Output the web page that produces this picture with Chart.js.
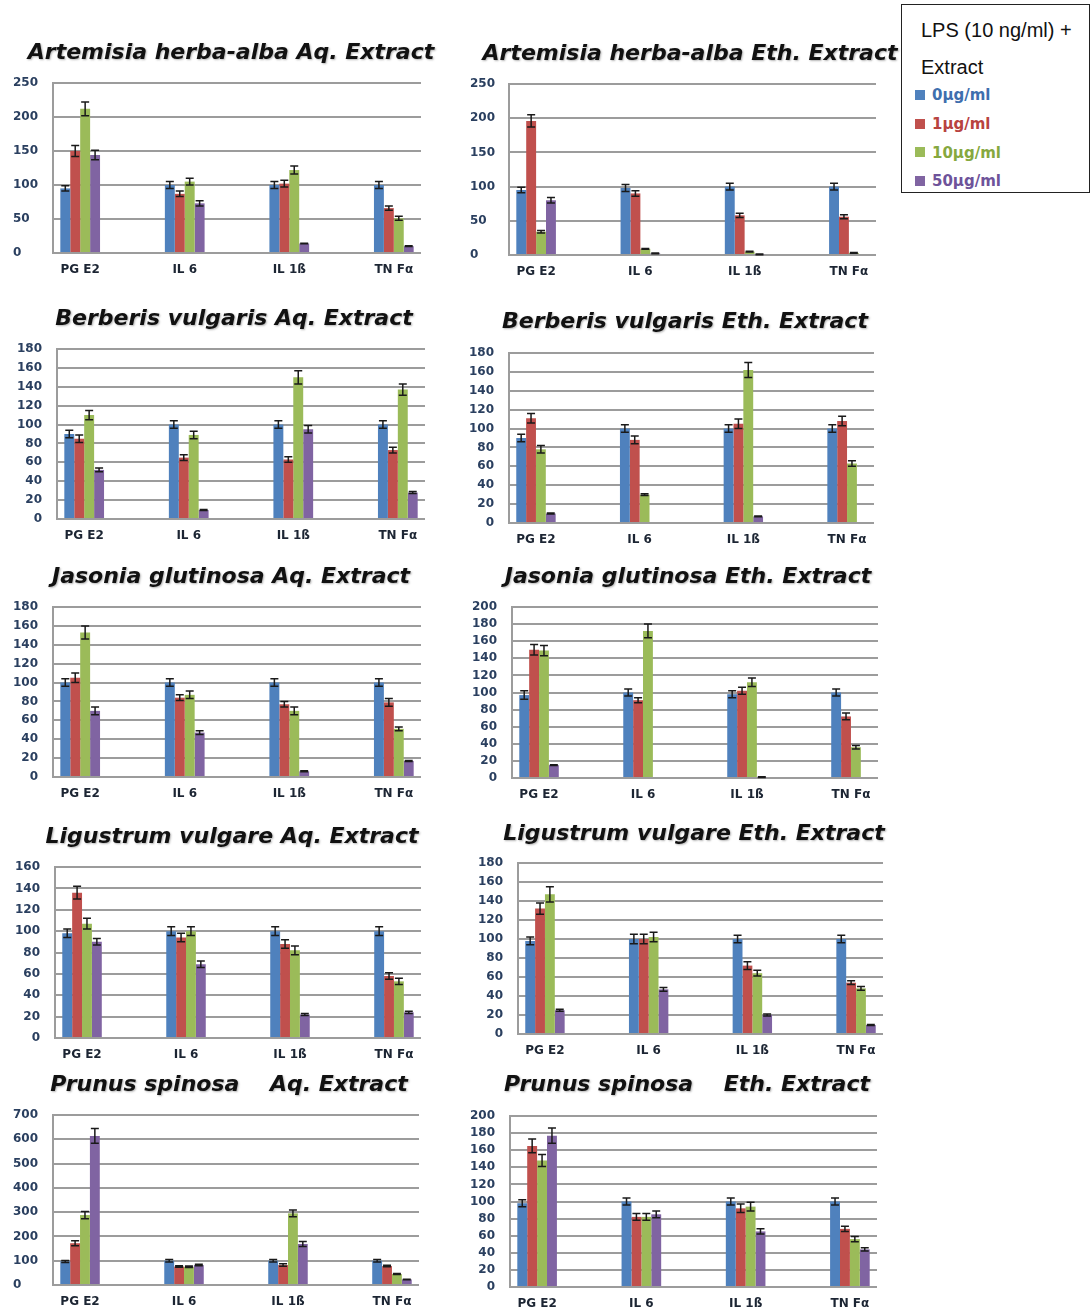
<!DOCTYPE html>
<html>
<head>
<meta charset="utf-8">
<script src="https://cdn.jsdelivr.net/npm/chart.js@4.4.0/dist/chart.umd.min.js"></script>
<style>
  html, body { margin: 0; padding: 0; background: #fff; }
  body { width: 1090px; height: 1311px; position: relative; overflow: hidden; }
  .panel { position: absolute; }
  #legend {
    position: absolute; left: 901px; top: 4px; width: 187px; height: 187px;
    border: 1px solid #222; background: #fff;
    font-family: 'Liberation Sans', Arial, sans-serif;
  }
  #legend .head { position: absolute; left: 19px; font-size: 20px; line-height: 20px; color: #111; white-space: nowrap; }
  #legend .sw { position: absolute; left: 13px; width: 10px; height: 10px; }
  #legend .lbl { position: absolute; left: 30px; font: bold 15px 'DejaVu Sans', sans-serif; line-height: 16px; white-space: nowrap; }
</style>
</head>
<body>
<div id="legend">
  <div class="head" style="top:15px">LPS (10 ng/ml) +</div>
  <div class="head" style="top:52px">Extract</div>
</div>
<script>
// categories and series
const categories = ['PG E2', 'IL 6', 'IL 1ß', 'TN Fα'];
const seriesNames = ['0µg/ml', '1µg/ml', '10µg/ml', '50µg/ml'];
const seriesColors = ['#4F81BD', '#C0504D', '#9BBB59', '#8064A2'];
const legendColors = ['#3E6FAE', '#B8433F', '#86A83F', '#6E539A'];

// one row per concentration (0, 1, 10, 50 µg/ml), columns follow categories
const artemisiaAqMeans  = [[95, 100, 100, 100], [150, 87, 102, 66], [212, 105, 122, 51], [144, 73, 14, 10]];
const artemisiaAqErrors = [[4, 5, 5, 5], [8, 4, 5, 3], [10, 5, 6, 3], [7, 4, 0.5, 0.5]];

const artemisiaEthMeans  = [[95, 98, 100, 100], [196, 90, 58, 56], [34, 9, 5, 3], [80, 2.5, 1, 0]];
const artemisiaEthErrors = [[4, 5, 5, 5], [9, 4, 3, 3], [2, 0.5, 0.5, 0.5], [4, 0.5, 0.5, 0]];

const berberisAqMeans  = [[90, 100, 100, 100], [85, 65, 63, 73], [110, 89, 150, 137], [52, 9.5, 95, 28]];
const berberisAqErrors = [[4, 4, 4, 4], [4, 3, 3, 3], [5, 4, 7, 6], [2, 0.5, 4, 1]];

const berberisEthMeans  = [[90, 100, 100, 100], [111, 88, 105, 108], [78, 30, 162, 63], [10, 0, 7, 0]];
const berberisEthErrors = [[4, 4, 4, 4], [5, 4, 5, 5], [4, 1, 8, 3], [0.5, 0, 0.5, 0]];

const jasoniaAqMeans  = [[100, 100, 100, 100], [105, 84, 77, 79], [153, 87, 70, 51], [70, 47, 6, 17]];
const jasoniaAqErrors = [[4, 4, 4, 4], [5, 3, 3, 4], [7, 4, 4, 2], [4, 2, 0.5, 0.5]];

const jasoniaEthMeans  = [[97, 100, 98, 100], [150, 91, 102, 72], [149, 172, 112, 36], [15, 0, 1, 0]];
const jasoniaEthErrors = [[5, 4, 4, 4], [6, 3, 4, 4], [6, 8, 5, 2], [0.5, 0, 0.5, 0]];

const ligustrumAqMeans  = [[98, 100, 100, 100], [136, 94, 88, 58], [107, 100, 82, 53], [90, 69, 22, 24]];
const ligustrumAqErrors = [[4, 4, 4, 4], [6, 4, 4, 3], [5, 4, 4, 3], [3, 3, 1, 1]];

const ligustrumEthMeans  = [[98, 100, 100, 100], [132, 100, 72, 54], [147, 102, 64, 48], [25, 47, 20, 9.5]];
const ligustrumEthErrors = [[4, 5, 4, 4], [6, 5, 4, 2], [8, 5, 3, 2], [1, 2, 1, 0.5]];

const prunusAqMeans  = [[97, 100, 100, 100], [172, 76, 82, 78], [288, 75, 295, 45], [614, 82, 169, 23]];
const prunusAqErrors = [[4, 5, 5, 5], [10, 3, 5, 3], [15, 3, 14, 2], [30, 3, 10, 1]];

const prunusEthMeans  = [[98, 100, 100, 100], [165, 82, 92, 68], [148, 82, 94, 56], [177, 85, 65, 44]];
const prunusEthErrors = [[4, 4, 4, 4], [8, 4, 5, 3], [7, 4, 5, 3], [9, 4, 3, 2]];

// y-axis ranges
const yMaxes = [250, 250, 180, 180, 180, 200, 160, 180, 700, 200];
const ySteps = [50, 50, 20, 20, 20, 20, 20, 20, 100, 20];

// panel placement (pixels in the page)
const panels = [
  { title: 'Artemisia herba-alba Aq. Extract', means: artemisiaAqMeans, errors: artemisiaAqErrors,
    axisX: 53, top: 83, bottom: 253, right: 421, titleX: 231, titleY: 53, yW: 40, align: 'far' },
  { title: 'Artemisia herba-alba Eth. Extract', means: artemisiaEthMeans, errors: artemisiaEthErrors,
    axisX: 509, top: 84, bottom: 255, right: 876, titleX: 690, titleY: 54, yW: 39, align: 'far' },
  { title: 'Berberis vulgaris Aq. Extract', means: berberisAqMeans, errors: berberisAqErrors,
    axisX: 57, top: 349, bottom: 519, right: 425, titleX: 234, titleY: 319, yW: 50, align: 'near' },
  { title: 'Berberis vulgaris Eth. Extract', means: berberisEthMeans, errors: berberisEthErrors,
    axisX: 509, top: 353, bottom: 523, right: 874, titleX: 685, titleY: 322, yW: 50, align: 'near' },
  { title: 'Jasonia glutinosa Aq. Extract', means: jasoniaAqMeans, errors: jasoniaAqErrors,
    axisX: 53, top: 607, bottom: 777, right: 421, titleX: 231, titleY: 577, yW: 50, align: 'near' },
  { title: 'Jasonia glutinosa Eth. Extract', means: jasoniaEthMeans, errors: jasoniaEthErrors,
    axisX: 512, top: 607, bottom: 778, right: 878, titleX: 688, titleY: 577, yW: 50, align: 'near' },
  { title: 'Ligustrum vulgare Aq. Extract', means: ligustrumAqMeans, errors: ligustrumAqErrors,
    axisX: 55, top: 867, bottom: 1038, right: 421, titleX: 232, titleY: 837, yW: 50, align: 'near' },
  { title: 'Ligustrum vulgare Eth. Extract', means: ligustrumEthMeans, errors: ligustrumEthErrors,
    axisX: 518, top: 863, bottom: 1034, right: 883, titleX: 694, titleY: 834, yW: 50, align: 'near' },
  { title: 'Prunus spinosa    Aq. Extract', means: prunusAqMeans, errors: prunusAqErrors,
    axisX: 53, top: 1115, bottom: 1285, right: 419, titleX: 229, titleY: 1085, yW: 40, align: 'far' },
  { title: 'Prunus spinosa    Eth. Extract', means: prunusEthMeans, errors: prunusEthErrors,
    axisX: 510, top: 1116, bottom: 1287, right: 877, titleX: 687, titleY: 1085, yW: 50, align: 'near' }
];

Chart.defaults.font.family = "'DejaVu Sans', Verdana, sans-serif";

// draws mean ± error whiskers on top of each bar
const errorBars = {
  id: 'errorBars',
  afterDatasetsDraw(chart) {
    const ctx = chart.ctx;
    const yScale = chart.scales.y;
    ctx.save();
    ctx.strokeStyle = '#1a1a1a';
    ctx.lineWidth = 1.5;
    chart.data.datasets.forEach((ds, i) => {
      chart.getDatasetMeta(i).data.forEach((bar, j) => {
        const err = ds.errors[j];
        if (!err) return;
        const val = ds.data[j].y;
        const top = yScale.getPixelForValue(val + err);
        const bot = yScale.getPixelForValue(Math.max(val - err, 0));
        ctx.beginPath();
        ctx.moveTo(bar.x, top); ctx.lineTo(bar.x, bot);
        ctx.moveTo(bar.x - 4, top); ctx.lineTo(bar.x + 4, top);
        ctx.moveTo(bar.x - 4, bot); ctx.lineTo(bar.x + 4, bot);
        ctx.stroke();
      });
    });
    ctx.restore();
  }
};

// panel heading, centred where the reference puts it
const panelTitle = {
  id: 'panelTitle',
  afterDraw(chart, args, opts) {
    const ctx = chart.ctx;
    ctx.save();
    ctx.font = "italic bold 22px 'DejaVu Sans'";
    ctx.textAlign = 'center';
    ctx.textBaseline = 'middle';
    ctx.shadowColor = 'rgba(90, 90, 90, 0.45)';
    ctx.shadowBlur = 2;
    ctx.shadowOffsetX = 1;
    ctx.shadowOffsetY = 1;
    ctx.fillStyle = '#111';
    ctx.fillText(opts.text, opts.x, opts.y);
    ctx.restore();
  }
};

const X_H = 30;
const TITLE_GAP = 20;

panels.forEach((p, k) => {
  const left = p.axisX - p.yW;
  const width = Math.round(2 * (p.titleX - left));
  const top = p.titleY - TITLE_GAP;
  const height = p.bottom - top + X_H;

  const box = document.createElement('div');
  box.className = 'panel';
  box.style.left = left + 'px';
  box.style.top = top + 'px';
  const canvas = document.createElement('canvas');
  canvas.width = width;
  canvas.height = height;
  canvas.style.width = width + 'px';
  canvas.style.height = height + 'px';
  box.appendChild(canvas);
  document.body.insertBefore(box, document.getElementById('legend'));

  new Chart(canvas.getContext('2d'), {
    type: 'bar',
    data: {
      datasets: seriesNames.map((name, i) => ({
        label: name,
        data: p.means[i].map((v, j) => ({ x: j, y: v })),
        errors: p.errors[i],
        backgroundColor: seriesColors[i],
        borderWidth: 0,
        categoryPercentage: 0.38,
        barPercentage: 1.0
      }))
    },
    options: {
      responsive: false,
      devicePixelRatio: 1,
      animation: false,
      layout: { padding: { left: 0, top: p.top - top, bottom: 0, right: left + width - p.right } },
      plugins: {
        legend: { display: false },
        tooltip: { enabled: false },
        title: { display: false },
        panelTitle: { text: p.title, x: p.titleX - left, y: TITLE_GAP }
      },
      scales: {
        x: {
          type: 'linear',
          min: -0.26,
          max: 3.26,
          offset: false,
          grid: { display: false, drawTicks: false, offset: false },
          border: { display: false },
          afterBuildTicks: s => { s.ticks = categories.map((c, i) => ({ value: i })); },
          afterFit: s => { s.height = X_H; },
          ticks: {
            autoSkip: false,
            maxRotation: 0,
            padding: 10,
            color: '#1c2533',
            font: { size: 12, weight: 'bold' },
            callback: v => categories[v]
          }
        },
        y: {
          min: 0,
          max: yMaxes[k],
          afterFit: s => { s.width = p.yW; },
          grid: { color: '#9c9c9c', lineWidth: 2, drawTicks: false },
          border: { display: true, color: '#9c9c9c', width: 2 },
          ticks: {
            stepSize: ySteps[k],
            autoSkip: false,
            padding: 15,
            crossAlign: p.align,
            color: '#2a3f5f',
            font: { size: 12, weight: 'bold' }
          }
        }
      }
    },
    plugins: [errorBars, panelTitle]
  });
});

// legend, built from the series arrays
const legend = document.getElementById('legend');
seriesNames.forEach((name, i) => {
  const cy = 90 + i * 28.7;
  const sw = document.createElement('div');
  sw.className = 'sw';
  sw.style.top = (cy - 5) + 'px';
  sw.style.background = seriesColors[i];
  legend.appendChild(sw);
  const lbl = document.createElement('div');
  lbl.className = 'lbl';
  lbl.style.top = (cy - 7.7) + 'px';
  lbl.style.color = legendColors[i];
  lbl.textContent = name;
  legend.appendChild(lbl);
});
</script>
</body>
</html>
